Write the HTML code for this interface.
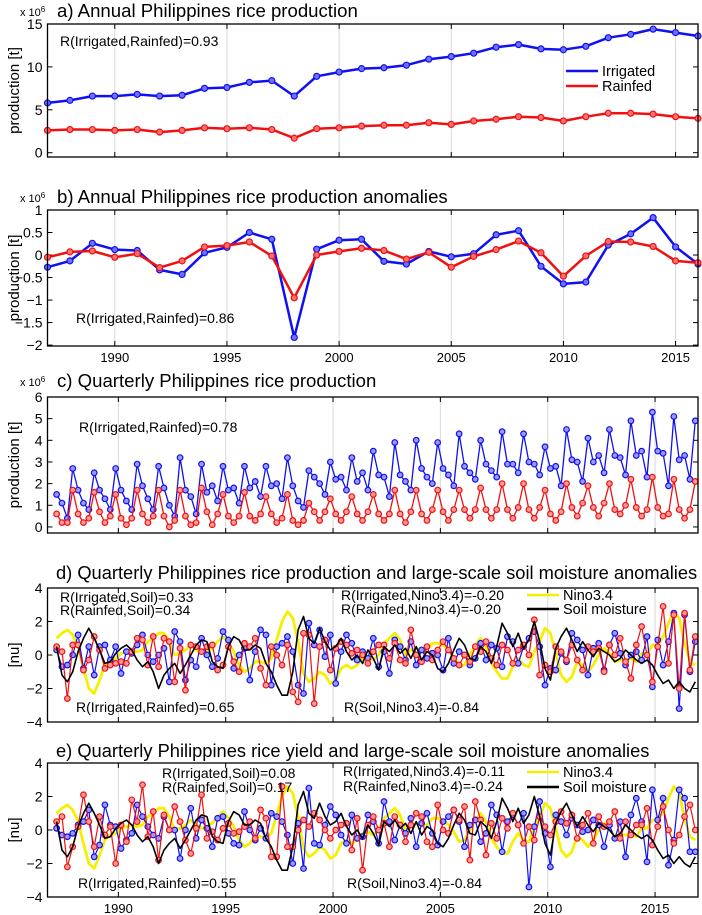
<!DOCTYPE html>
<html><head><meta charset="utf-8"><style>
body{margin:0;background:#fff}
svg{display:block;font-family:"Liberation Sans",sans-serif}
</style></head><body>
<svg id="fig" width="702" height="915" viewBox="0 0 702 915"></svg>
<script>
const years=[1987,1988,1989,1990,1991,1992,1993,1994,1995,1996,1997,1998,1999,2000,2001,2002,2003,2004,2005,2006,2007,2008,2009,2010,2011,2012,2013,2014,2015,2016];
const annualIrrigated=[5.8,6.1,6.6,6.6,6.8,6.6,6.7,7.5,7.6,8.2,8.4,6.6,8.9,9.4,9.8,9.9,10.2,10.9,11.2,11.6,12.3,12.6,12.1,12.0,12.4,13.4,13.8,14.4,14.0,13.6];
const annualRainfed=[2.6,2.7,2.7,2.6,2.7,2.4,2.6,2.9,2.8,2.9,2.7,1.7,2.8,2.9,3.1,3.2,3.2,3.5,3.3,3.7,3.9,4.2,4.1,3.7,4.2,4.6,4.6,4.5,4.2,4.0];
const anomIrrigated=[-0.27,-0.13,0.26,0.12,0.10,-0.33,-0.43,0.05,0.17,0.5,0.35,-1.83,0.13,0.33,0.35,-0.14,-0.2,0.08,-0.04,0.03,0.45,0.54,-0.25,-0.64,-0.6,0.22,0.47,0.83,0.18,-0.2];
const anomRainfed=[-0.05,0.07,0.09,-0.05,0.03,-0.28,-0.13,0.18,0.21,0.29,-0.02,-0.95,0.0,0.08,0.15,0.1,-0.09,0.06,-0.27,-0.03,0.12,0.31,0.05,-0.47,-0.02,0.3,0.29,0.19,-0.13,-0.17];
const qIrrigated=[1.5,1.1,0.4,2.7, 1.7,1.1,0.8,2.5, 1.7,1.3,0.8,2.7, 1.7,1.2,0.8,2.9, 1.9,1.3,0.8,2.8, 1.8,1.0,0.5,3.2, 1.7,1.4,0.6,2.9, 1.6,1.9,1.2,2.8, 1.7,1.8,1.1,2.8, 1.8,2.1,1.4,2.8, 1.9,2.0,1.3,3.2, 1.9,1.2,0.9,2.6, 2.3,2.0,1.5,3.0, 2.2,2.3,1.7,3.2, 2.1,2.5,1.7,3.5, 2.4,2.3,1.4,3.9, 2.4,2.1,1.7,4.0, 2.7,2.3,2.0,3.9, 2.7,2.4,1.9,4.3, 2.8,2.5,2.2,4.0, 2.9,2.6,2.3,4.4, 2.9,2.9,2.5,4.3, 3.0,2.9,2.4,3.7, 2.7,2.8,1.9,4.5, 3.1,3.0,2.1,4.1, 3.0,3.3,2.5,4.5, 3.3,3.2,2.4,4.9, 3.3,3.5,2.3,5.3, 3.5,3.4,1.9,5.1, 3.1,3.3,2.2,4.9];
const qRainfed=[0.6,0.2,0.2,1.7, 0.6,0.2,0.4,1.6, 0.7,0.2,0.5,1.5, 0.4,0.1,0.4,1.7, 0.6,0.2,0.5,1.7, 0.5,0.0,0.3,1.7, 0.5,0.1,0.2,1.8, 0.7,0.1,0.6,1.5, 0.5,0.2,0.5,1.6, 0.5,0.3,0.6,1.4, 0.6,0.2,0.4,1.5, 0.3,0.1,0.3,1.1, 0.7,0.3,0.7,1.3, 0.6,0.3,0.7,1.4, 0.6,0.3,0.7,1.5, 0.6,0.3,0.6,1.7, 0.6,0.2,0.7,1.7, 0.6,0.3,0.8,1.7, 0.7,0.3,0.8,1.7, 0.8,0.4,0.8,1.8, 0.8,0.4,0.8,2.0, 0.8,0.4,0.9,2.0, 0.8,0.4,0.9,1.7, 0.6,0.3,0.7,2.0, 0.9,0.5,1.1,1.9, 0.9,0.5,1.1,2.0, 0.8,0.6,1.0,2.2, 0.9,0.5,0.8,2.3, 0.9,0.5,0.6,2.2, 0.8,0.4,0.8,2.1];
const nino34=[1.0,1.3,1.5,1.2, 0.5,-0.8,-2.0,-2.3, -1.5,-0.6,-0.3,-0.2, 0.1,0.2,0.3,0.2, 0.3,0.8,1.0,1.3, 1.3,0.8,0.0,0.1, 0.3,0.6,0.3,0.1, 0.2,0.4,0.8,1.1, 0.7,0.2,-0.6,-1.0, -0.8,-0.4,-0.4,-0.5, -0.2,0.9,2.0,2.6, 2.2,0.8,-1.1,-1.6, -1.4,-1.0,-1.2,-1.7, -1.5,-0.8,-0.6,-0.8, -0.6,-0.2,-0.1,-0.3, 0.0,0.7,1.0,1.3, 0.9,0.0,0.3,0.4, 0.3,0.3,0.7,0.7, 0.6,0.3,-0.1,-0.7, -0.6,0.0,0.6,1.0, 0.5,-0.5,-1.0,-1.4, -1.4,-0.7,-0.2,-0.6, -0.7,0.2,0.8,1.6, 1.3,0.1,-1.2,-1.6, -1.3,-0.4,-0.6,-1.0, -0.6,0.0,0.4,0.1, -0.4,-0.3,-0.3,-0.2, -0.4,0.1,0.1,0.6, 0.6,1.1,1.9,2.6, 2.2,0.7,-0.4,-0.6];
const soilMoisture=[0.5,-1.2,-1.6,-1.0, 0.2,1.0,1.6,1.0, 0.3,-0.5,-0.4,0.1, 0.4,0.6,0.3,-0.3, -0.7,-0.4,-1.0,-2.0, -1.2,-0.8,-0.5,-1.1, -0.6,0.0,0.6,0.9, 0.8,-0.4,-0.7,-0.8, 0.5,1.1,0.9,0.3, 0.3,0.6,0.4,-0.5, -1.0,-1.8,-2.4,-2.4, -1.0,1.5,2.3,1.0, 0.7,1.6,0.8,0.3, 0.5,1.0,0.2,-0.3, 0.0,-0.5,0.3,-0.2, -0.9,0.5,0.2,0.6, 0.1,0.4,-0.2,0.5, -0.3,0.2,0.0,-0.8, -1.0,-0.5,0.3,1.0, 0.6,-0.2,-0.3,0.5, 0.2,-0.5,0.5,1.9, 1.3,0.5,1.3,0.4, 0.9,2.0,0.8,-0.8, -1.5,0.4,1.1,1.6, 0.9,0.2,0.8,0.3, -0.1,0.4,0.2,0.0, -0.4,-0.2,0.3,0.0, -0.3,-0.5,-0.3,-0.6, -1.2,-1.7,-1.5,-2.0, -1.6,-2.0,-2.2,-1.6];
const dIrrigated=[0.3,-0.7,-0.6,0.0, 1.2,-0.8,0.5,-1.2, 0.5,0.6,-0.3,0.5, -1.1,0.2,0.1,0.6, 1.2,0.0,-0.4,0.0, 0.4,-1.6,1.4,0.8, -1.5,-0.3,-0.7,1.0, 0.0,-0.7,-0.2,1.4, 0.9,-0.8,0.0,0.4, -1.5,0.2,1.5,1.2, -1.8,0.5,0.7,1.1, 0.2,-1.8,-2.3,1.9, 0.6,1.5,-0.1,1.2, -1.7,0.2,1.2,0.7, -0.3,0.2,-0.2,1.0, -0.7,0.2,-1.1,0.9, 0.5,-0.3,0.8,-0.6, 0.3,-0.2,0.1,0.0, -0.9,1.0,-0.5,0.2, 0.0,-0.6,-0.2,0.7, -0.3,0.6,0.4,-0.7, 1.1,0.8,-0.5,0.5, 1.0,1.4,0.5,-1.8, -0.8,-0.9,0.1,-0.4, 1.3,0.9,0.3,-1.2, 0.4,0.7,-0.9,0.6, 1.3,0.1,-0.6,0.0, 0.2,-0.3,1.1,-1.9, 0.9,-0.6,0.8,2.5, -3.2,2.4,-1.0,0.8];
const dRainfed=[0.5,0.2,-2.6,0.6, 0.6,-0.9,-0.3,1.1, 0.3,-0.8,-0.6,-0.5, -0.4,-0.5,0.2,1.0, 0.9,-0.6,1.1,-0.7, 1.0,0.8,-1.6,0.4, -2.1,0.6,0.5,0.2, 0.5,0.6,-0.9,-0.6, 0.5,-0.4,-1.0,0.7, 0.5,1.0,-0.8,-1.8, 0.5,0.0,-0.6,0.6, -2.2,-2.8,1.3,1.2, -2.9,0.5,0.9,-0.9, 0.4,0.8,0.6,0.1, 0.3,0.0,-0.5,0.2, 0.6,0.6,-0.2,0.7, -0.3,-0.5,1.5,0.0, -0.4,0.5,-0.3,0.3, 0.8,0.3,-0.2,-0.6, 0.0,-0.4,0.5,0.2, 0.8,-0.2,-0.6,0.6, 0.3,-0.5,0.3,0.6, 0.0,2.1,-1.2,-0.6, -1.0,0.5,0.2,-0.3, 0.6,-0.3,-0.9,0.5, 0.2,0.4,-1.0,0.6, 0.0,1.0,-0.4,-1.4, 0.6,1.7,0.0,-1.6, 0.5,2.9,-0.5,2.4, -2.0,2.5,-0.9,1.1];
const eIrrigated=[0.1,-0.3,-0.4,-0.2, 0.3,0.5,1.2,-1.6, -0.9,1.5,0.3,0.2, -1.1,-0.6,-0.2,1.5, 0.8,0.2,-0.3,-0.5, 0.8,0.0,0.0,-1.7, 0.0,1.3,-0.5,0.6, 0.1,-1.0,0.7,0.8, -0.2,-0.8,-0.9,1.1, 0.0,-0.6,0.1,-0.5, 1.0,0.8,0.5,-0.3, -2.0,0.4,-2.3,2.5, -0.8,-0.9,0.3,1.4, 0.9,-0.3,-0.8,0.9, -0.5,-0.4,0.9,0.5, -0.8,1.7,0.5,-0.6, 0.3,-0.2,0.7,-1.0, 0.4,1.0,-0.2,-0.9, 0.5,0.8,1.2,0.5, -1.0,0.3,0.6,-0.7, -0.2,1.5,0.9,-1.3, 0.5,0.9,0.3,1.0, -3.4,0.2,1.7,-0.2, -2.2,0.9,0.5,-0.3, 0.7,0.3,-0.1,0.0, 0.6,0.3,-1.0,0.3, -0.5,0.5,-1.6,0.9, 1.9,0.5,-1.9,2.4, 0.6,1.9,-2.1,-0.6, 2.4,1.9,-1.3,-1.3];
const eRainfed=[0.5,0.8,-2.2,-1.0, 0.2,2.1,0.5,-1.0, 0.8,-0.3,0.2,-2.0, 0.3,-0.7,1.8,0.5, 2.7,-0.4,1.1,-1.8, 0.9,0.0,1.4,0.5, -0.6,-1.4,0.1,2.1, -0.5,-0.1,-0.6,0.1, 0.4,-0.2,-0.1,0.2, 0.5,-0.5,1.2,0.7, -1.6,-1.6,2.6,-1.0, -1.0,0.0,0.6,0.2, 1.0,0.6,0.0,-0.5, 0.0,0.3,0.4,-1.2, 0.7,-2.4,0.3,0.8, 0.0,0.4,-1.0,0.8, 0.3,-0.7,0.3,1.0, 0.8,-0.7,-1.0,1.5, 0.0,-0.2,1.2,0.6, 1.4,-1.8,1.7,0.6, -1.5,0.4,-0.5,0.7, 0.1,1.0,0.3,-0.8, 0.2,-0.6,0.8,0.2, -0.3,0.5,1.1,0.4, 0.9,-0.5,0.3,1.0, -0.8,0.8,0.2,0.5, 1.1,-0.5,0.5,-0.3, 0.3,0.3,1.3,-0.9, 0.2,1.4,0.0,-0.8, -0.3,0.8,1.5,0.0];
const xTickYears=[1990,1995,2000,2005,2010,2015];
const ticksA=[0,5,10,15];
const ticksB=[-2,-1.5,-1,-0.5,0,0.5,1];
const ticksC=[0,1,2,3,4,5,6];
const ticksDE=[-4,-2,0,2,4];

const NS='http://www.w3.org/2000/svg';
const svg=document.getElementById('fig');
function mk(tag,attrs,parent){const e=document.createElementNS(NS,tag);for(const k in attrs)e.setAttribute(k,attrs[k]);(parent||svg).appendChild(e);return e;}
function txt(s,x,y,size,parent,anchor){const t=mk('text',{x:x,y:y,'font-size':size,'text-anchor':anchor||'start',fill:'#000'},parent);t.textContent=s;return t;}
const quarterX=qIrrigated.map((_,i)=>1987.125+i*0.25);

function panel(p){
  const g=mk('g',{});
  
  
  const X=v=>p.x0+(v-p.xmin)/(p.xmax-p.xmin)*(p.x1-p.x0);
  const Y=v=>p.y1-(v-p.ymin)/(p.ymax-p.ymin)*(p.y1-p.y0);
  xTickYears.forEach(yr=>{
    const l=mk('line',{x1:X(yr),x2:X(yr),y1:p.y0,y2:p.y1,stroke:'#d8d8d8','stroke-width':1},g);
    
    
    mk('line',{x1:X(yr),x2:X(yr),y1:p.y1,y2:p.y1-5,stroke:'#000'},g);
    mk('line',{x1:X(yr),x2:X(yr),y1:p.y0,y2:p.y0+5,stroke:'#000'},g);
    if(p.xlabels){const t=txt(String(yr),X(yr),p.y1+16,13,g,'middle');
      
      }
  });
  p.yticks.forEach(v=>{
    mk('line',{x1:p.x0,x2:p.x0+5,y1:Y(v),y2:Y(v),stroke:'#000'},g);
    mk('line',{x1:p.x1,x2:p.x1-5,y1:Y(v),y2:Y(v),stroke:'#000'},g);
    const t=txt(String(v).replace('-','\u2212'),p.x0-5,Y(v)+5,14,g,'end');
    
    
  });
  p.series.forEach(s=>{
    const pts=s.y.map((v,i)=>X(s.x[i]).toFixed(1)+','+Y(v).toFixed(1)).join(' ');
    const pl=mk('polyline',{points:pts,fill:'none',stroke:s.color,'stroke-width':s.w,'stroke-linejoin':'round'},g);
    
    
    if(s.marker){s.y.forEach((v,i)=>{
      const c=mk('circle',{cx:X(s.x[i]),cy:Y(v),r:s.r||3,fill:s.fill,stroke:s.color,'stroke-width':1.2},g);
      
      
    });}
  });
  const b=mk('rect',{x:p.x0,y:p.y0,width:p.x1-p.x0,height:p.y1-p.y0,fill:'none',stroke:'#000','stroke-width':1.3},g);
  
  
  const tt=txt(p.title,p.titleX,p.titleY,p.titleSize||18.6,g);
  
  
  if(p.exp){const e=mk('text',{x:20,y:p.titleY-1,'font-size':11},g);e.innerHTML='x 10<tspan font-size="8" dy="-4">6</tspan>';
    
    }
  const yl=mk('text',{x:0,y:0,'font-size':15,'text-anchor':'middle',transform:'translate(19,'+((p.y0+p.y1)/2)+') rotate(-90)'},g);
  yl.textContent=p.ylabel;
  
  
  (p.notes||[]).forEach(n=>{const t=txt(n[0],n[1],n[2],14,g);
    
    });
  (p.legend||[]).forEach(L=>{
    const lg=mk('g',{},g);
    
    
    mk('line',{x1:L[2],x2:L[2]+32,y1:L[3],y2:L[3],stroke:L[1],'stroke-width':2.5},lg);
    txt(L[0],L[2]+36,L[3]+5,14.5,lg);
  });
}

const BL='#1010f0',RD='#f01010';
panel({name:'panel-a',x0:47.5,x1:698,y0:24,y1:157,xmin:1987,xmax:2016,ymin:-0.5,ymax:15,yticks:ticksA,
  title:'a) Annual Philippines rice production',titleX:57,titleY:17,exp:true,ylabel:'production [t]',
  series:[{name:'irrigated-line',x:years,y:annualIrrigated,color:BL,fill:'#7070ff',w:2.5,marker:true},
          {name:'rainfed-line',x:years,y:annualRainfed,color:RD,fill:'#ff7070',w:2.5,marker:true}],
  notes:[['R(Irrigated,Rainfed)=0.93',60,46]],
  legend:[['Irrigated',BL,566,71],['Rainfed',RD,566,86]]});
panel({name:'panel-b',x0:47.5,x1:698,y0:210,y1:346,xmin:1987,xmax:2016,ymin:-2.02,ymax:1,yticks:ticksB,xlabels:true,
  title:'b) Annual Philippines rice production anomalies',titleX:57,titleY:203,exp:true,ylabel:'production [t]',
  series:[{name:'irrigated-anomaly-line',x:years,y:anomIrrigated,color:BL,fill:'#7070ff',w:2.5,marker:true},
          {name:'rainfed-anomaly-line',x:years,y:anomRainfed,color:RD,fill:'#ff7070',w:2.5,marker:true}],
  notes:[['R(Irrigated,Rainfed)=0.86',76,323]]});
panel({name:'panel-c',x0:47.5,x1:698,y0:397,y1:533,xmin:1986.7,xmax:2017,ymin:-0.28,ymax:6,yticks:ticksC,
  title:'c) Quarterly Philippines rice production',titleX:57,titleY:387,exp:true,ylabel:'production [t]',
  series:[{name:'irrigated-quarterly-line',x:quarterX,y:qIrrigated,color:BL,fill:'#9a9aff',w:1.3,marker:true,r:2.8},
          {name:'rainfed-quarterly-line',x:quarterX,y:qRainfed,color:RD,fill:'#ff9a9a',w:1.3,marker:true,r:2.8}],
  notes:[['R(Irrigated,Rainfed)=0.78',79,432]]});
panel({name:'panel-d',x0:47.5,x1:698,y0:588,y1:722,xmin:1986.7,xmax:2017,ymin:-4,ymax:4,yticks:ticksDE,titleSize:18.3,
  title:'d) Quarterly Philippines rice production and large-scale soil moisture anomalies',titleX:56,titleY:579,ylabel:'[nu]',
  series:[{name:'nino34-line',x:quarterX,y:nino34,color:'#f4f000',w:2.8},
          {name:'irrigated-anomaly-line',x:quarterX,y:dIrrigated,color:BL,fill:'#9a9aff',w:1.2,marker:true,r:2.8},
          {name:'rainfed-anomaly-line',x:quarterX,y:dRainfed,color:RD,fill:'#ff9a9a',w:1.2,marker:true,r:2.8},
          {name:'soil-moisture-line',x:quarterX,y:soilMoisture,color:'#000',w:1.6}],
  notes:[['R(Irrigated,Soil)=0.33',60,602],['R(Rainfed,Soil)=0.34',60,615],['R(Irrigated,Nino3.4)=-0.20',341,600],['R(Rainfed,Nino3.4)=-0.20',341,614],['R(Irrigated,Rainfed)=0.65',76,712],['R(Soil,Nino3.4)=-0.84',344,712]],
  legend:[['Nino3.4','#f4f000',527,595],['Soil moisture','#000',527,609]]});
panel({name:'panel-e',x0:47.5,x1:698,y0:763,y1:897,xmin:1986.7,xmax:2017,ymin:-4,ymax:4,yticks:ticksDE,xlabels:true,titleSize:18.3,
  title:'e) Quarterly Philippines rice yield and large-scale soil moisture anomalies',titleX:56,titleY:757,ylabel:'[nu]',
  series:[{name:'nino34-line',x:quarterX,y:nino34,color:'#f4f000',w:2.8},
          {name:'irrigated-yield-line',x:quarterX,y:eIrrigated,color:BL,fill:'#9a9aff',w:1.2,marker:true,r:2.8},
          {name:'rainfed-yield-line',x:quarterX,y:eRainfed,color:RD,fill:'#ff9a9a',w:1.2,marker:true,r:2.8},
          {name:'soil-moisture-line',x:quarterX,y:soilMoisture,color:'#000',w:1.6}],
  notes:[['R(Irrigated,Soil)=0.08',162,778],['R(Rainfed,Soil)=0.17',162,792],['R(Irrigated,Nino3.4)=-0.11',343,776],['R(Rainfed,Nino3.4)=-0.24',343,791],['R(Irrigated,Rainfed)=0.55',78,888],['R(Soil,Nino3.4)=-0.84',347,888]],
  legend:[['Nino3.4','#f4f000',527,772],['Soil moisture','#000',527,787]]});
</script>
</body></html>
